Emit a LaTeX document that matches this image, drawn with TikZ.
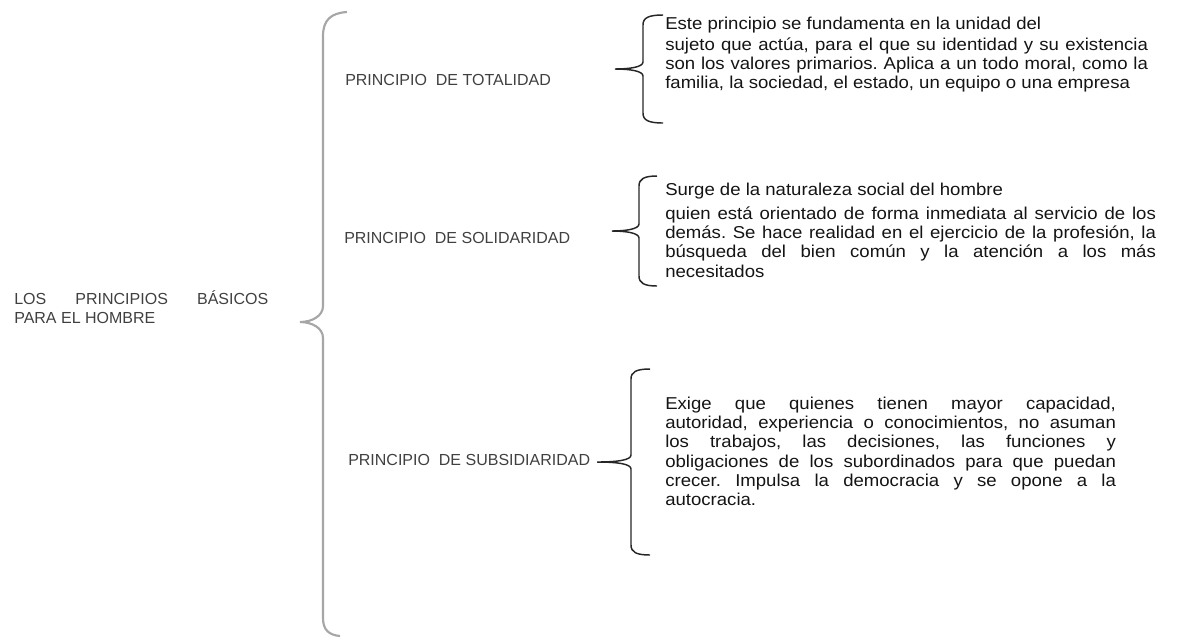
\documentclass[tikz,border=0pt]{standalone}
\usepackage{fontspec}
\setmainfont{Liberation Sans}
\newfontfamily\bodyfont[FakeStretch=1.08]{Liberation Sans}
\hyphenpenalty=10000
\frenchspacing
\begin{document}
\begin{tikzpicture}[x=0.75pt, y=-0.75pt,
    titletext/.style={anchor=base west, inner sep=0pt, text=black!75, font=\fontsize{12}{14.25}\selectfont},
    bodytext/.style={anchor=base west, inner sep=0pt, align=justify, text=black!92, font=\bodyfont\fontsize{12.9}{14.5}\selectfont},
    bigbrace/.style={draw=black!35, line width=1.6pt},
    smallbrace/.style={draw=black!85, line width=1.1pt}]
  \useasboundingbox (0,0) rectangle (1191,637);

  \node[titletext, text width=190.5pt, align=justify] (root) at (14,304) {LOS PRINCIPIOS BÁSICOS\linebreak PARA EL HOMBRE};

  \node[titletext] (total) at (345,85) {PRINCIPIO\ \ DE TOTALIDAD};
  \node[titletext] (solid) at (344,243) {PRINCIPIO\ \ DE SOLIDARIDAD};
  \node[titletext] (subsid) at (348,465) {PRINCIPIO\ \ DE SUBSIDIARIDAD};

  \node[bodytext, text width=362pt] (totaltxt) at (665,29) {Este principio se fundamenta en la unidad del\\[1.3pt] sujeto que actúa, para el que su identidad y su existencia\linebreak son los valores primarios. Aplica a un todo moral, como la\linebreak familia, la sociedad, el estado, un equipo o una empresa};
  \node[bodytext, text width=368pt] (solidtxt) at (665,195) {Surge de la naturaleza social del hombre\\[3.5pt] quien está orientado de forma inmediata al servicio de los\linebreak demás. Se hace realidad en el ejercicio de la profesión, la\linebreak búsqueda del bien común y la atención a los más\linebreak necesitados};
  \node[bodytext, text width=338pt] (subsidtxt) at (665,409) {Exige que quienes tienen mayor capacidad,\linebreak autoridad, experiencia o conocimientos, no asuman\linebreak los trabajos, las decisiones, las funciones y\linebreak obligaciones de los subordinados para que puedan\linebreak crecer. Impulsa la democracia y se opone a la\linebreak autocracia.};

  % Braces
  \draw[bigbrace] (347,12) .. controls (331,13) and (323,20) .. (323,36) -- (323,306) .. controls (323,316) and (312,322) .. (300,322) .. controls (312,322) and (323,328) .. (323,338) -- (323,618) .. controls (323,630) and (329,635) .. (340,636);
  \draw[smallbrace] (663,15) .. controls (648,15) and (643,18) .. (643,25) -- (643,62) .. controls (643,67) and (630,69) .. (615,69) .. controls (630,69) and (643,71) .. (643,76) -- (643,113) .. controls (643,120) and (648,123) .. (663,123);
  \draw[smallbrace] (657,176) .. controls (644,176) and (639,179) .. (639,186) -- (639,224) .. controls (639,229) and (626,231) .. (612,231) .. controls (626,231) and (639,233) .. (639,238) -- (639,276) .. controls (639,283) and (644,286) .. (657,286);
  \draw[smallbrace] (650,369) .. controls (636,369) and (631,372) .. (631,379) -- (631,455) .. controls (631,460) and (618,462) .. (597,462) .. controls (618,462) and (631,464) .. (631,469) -- (631,545) .. controls (631,552) and (636,555) .. (650,555);
\end{tikzpicture}
\end{document}
